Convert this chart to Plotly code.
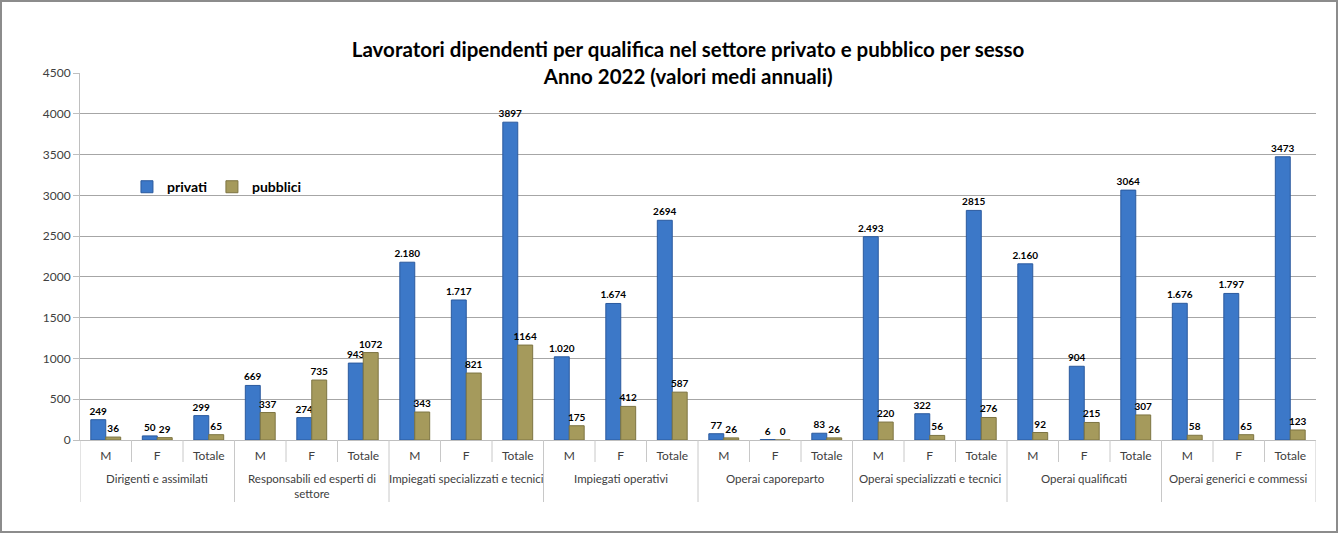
"""Lavoratori dipendenti per qualifica, settore privato e pubblico, per sesso (2022)."""

import plotly.graph_objects as go

# categories
groups = [
    "Dirigenti e assimilati",
    "Responsabili ed esperti di<br>settore",
    "Impiegati specializzati e tecnici",
    "Impiegati operativi",
    "Operai caporeparto",
    "Operai specializzati e tecnici",
    "Operai qualificati",
    "Operai generici e commessi",
]
subs = ["M", "F", "Totale"]

# series values
privati = [249, 50, 299, 669, 274, 943, 2180, 1717, 3897, 1020, 1674, 2694,
           77, 6, 83, 2493, 322, 2815, 2160, 904, 3064, 1676, 1797, 3473]
pubblici = [36, 29, 65, 337, 735, 1072, 343, 821, 1164, 175, 412, 587,
            26, 0, 26, 220, 56, 276, 92, 215, 307, 58, 65, 123]

# data labels as printed on the chart
privati_lbl = ["249", "50", "299", "669", "274", "943", "2.180", "1.717", "3897",
               "1.020", "1.674", "2694", "77", "6", "83", "2.493", "322", "2815",
               "2.160", "904", "3064", "1.676", "1.797", "3473"]
pubblici_lbl = [str(v) for v in pubblici]

# y ticks
y_ticks = [0, 500, 1000, 1500, 2000, 2500, 3000, 3500, 4000, 4500]

FONT = "Lato"
n = len(groups) * len(subs)
xpos = list(range(n))
sub_labels = subs * len(groups)

fig = go.Figure()
fig.add_trace(go.Bar(
    x=xpos, y=privati, name="privati",
    marker={"color": "#3c78c8", "line": {"color": "#2b5a9e", "width": 1}},
    text=privati_lbl, textposition="outside", cliponaxis=False, constraintext="none",
    textfont={"family": FONT, "size": 10, "color": "black", "weight": "bold"},
))
fig.add_trace(go.Bar(
    x=xpos, y=pubblici, name="pubblici",
    marker={"color": "#a59a5c", "line": {"color": "#7d7442", "width": 1}},
    text=pubblici_lbl, textposition="outside", cliponaxis=False, constraintext="none",
    textfont={"family": FONT, "size": 10, "color": "black", "weight": "bold"},
))

# separators below the axis: short between sub categories, long between groups
for i in range(n + 1):
    long_line = i % 3 == 0
    fig.add_shape(
        type="line", xref="x", yref="paper",
        x0=i - 0.5, x1=i - 0.5, y0=0, y1=-0.169 if long_line else -0.06,
        line={"color": "#c8c8c8", "width": 1},
    )

# group labels
for g, name in enumerate(groups):
    fig.add_annotation(
        x=g * 3 + 1, y=-0.083, xref="x", yref="paper",
        text=name, showarrow=False, yanchor="top",
        font={"family": FONT, "size": 11.5, "color": "#404040"},
    )

# outer frame
fig.add_shape(
    type="rect", xref="paper", yref="paper",
    x0=-79 / 1236, x1=1257 / 1236, y0=-92 / 367, y1=439 / 367,
    line={"color": "#8c8c8c", "width": 2},
)

fig.update_layout(
    width=1339, height=533,
    margin={"l": 80, "r": 23, "t": 73, "b": 93},
    plot_bgcolor="white", paper_bgcolor="white",
    font={"family": FONT, "color": "#404040"},
    title={
        "text": "Lavoratori dipendenti per qualifica nel settore privato e pubblico per sesso"
                "<br>Anno 2022 (valori medi annuali)",
        "x": 0.492, "xref": "paper", "xanchor": "center",
        "y": 1 - 57 / 533, "yanchor": "middle",
        "font": {"family": FONT, "size": 20.5, "color": "black", "weight": "bold"},
    },
    barmode="group", bargap=0.42, bargroupgap=0,
    showlegend=True,
    legend={
        "orientation": "h", "x": 0.038, "y": 0.689, "yanchor": "middle",
        "xanchor": "left", "bgcolor": "rgba(0,0,0,0)",
        "font": {"family": FONT, "size": 14, "color": "black", "weight": "bold"},
        "itemwidth": 30,
    },
    xaxis={
        "range": [-0.5, n - 0.5],
        "tickmode": "array", "tickvals": xpos, "ticktext": sub_labels,
        "ticks": "outside", "ticklen": 5, "tickcolor": "rgba(0,0,0,0)",
        "tickfont": {"family": FONT, "size": 12, "color": "#404040"},
        "showgrid": False, "showline": True, "linecolor": "#bfbfbf", "zeroline": False,
    },
    yaxis={
        "range": [0, 4500],
        "tickmode": "array", "tickvals": y_ticks,
        "tickfont": {"family": FONT, "size": 12, "color": "#404040"},
        "ticks": "outside", "ticklen": 6, "tickcolor": "#bfbfbf",
        "showgrid": True, "gridcolor": "#a6a6a6", "gridwidth": 1,
        "showline": True, "linecolor": "#bfbfbf", "zeroline": False,
    },
)

fig.write_html(
    "out.html",
    config={"displayModeBar": False},
    post_script="document.body.style.margin='0';",
)
